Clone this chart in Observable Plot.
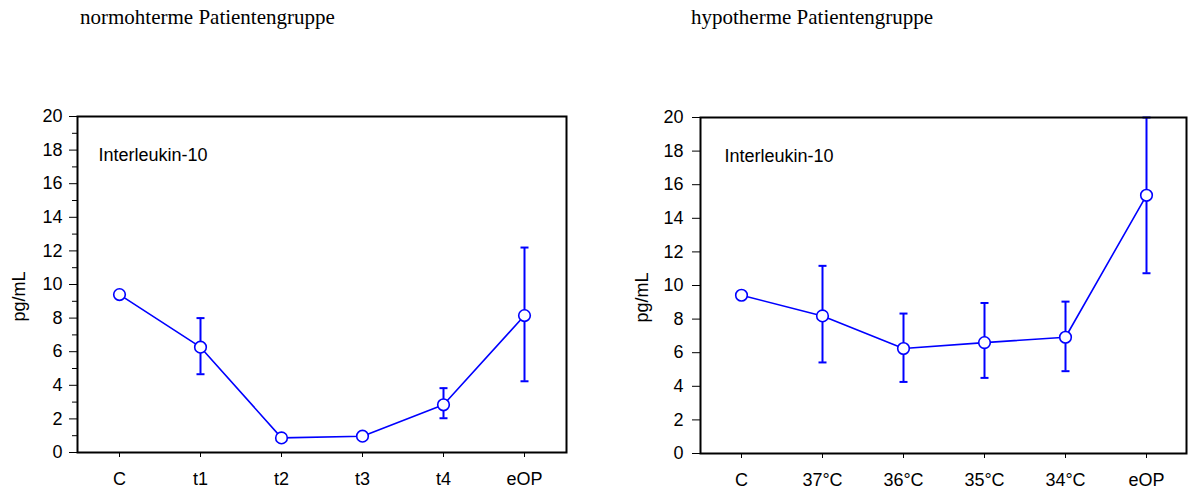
<!DOCTYPE html>
<html>
<head>
<meta charset="utf-8">
<script src="https://cdn.jsdelivr.net/npm/d3@7"></script>
<script src="https://cdn.jsdelivr.net/npm/@observablehq/plot@0.6"></script>
<style>
  body { margin: 0; background: white; }
  #wrap { position: relative; width: 1188px; height: 491px; overflow: hidden; background: white; }
  .title { position: absolute; top: 5px; font-family: "Liberation Serif", "Times New Roman", serif; font-size: 21px; color: #000; white-space: nowrap; }
  .panel { position: absolute; top: 60px; }
</style>
</head>
<body>
<div id="wrap">
  <div class="title" style="left:80px">normohterme Patientengruppe</div>
  <div class="title" style="left:691px">hypotherme Patientengruppe</div>
  <div class="panel" id="left" style="left:0px"></div>
  <div class="panel" id="right" style="left:594px"></div>
</div>
<script>
// ---- data ----
const panelLabel = "Interleukin-10";
const yLabel = "pg/mL";
const yTicks = [0, 2, 4, 6, 8, 10, 12, 14, 16, 18, 20];
const yMinorTicks = [1, 3, 5, 7, 9, 11, 13, 15, 17, 19];

const catsNormo = ["C", "t1", "t2", "t3", "t4", "eOP"];
const meanNormo = [9.4, 6.27, 0.87, 0.97, 2.84, 8.15];
const lowNormo  = [null, 4.66, null, null, 2.04, 4.24];
const highNormo = [null, 8.0, null, null, 3.83, 12.2];

const catsHypo = ["C", "37°C", "36°C", "35°C", "34°C", "eOP"];
const meanHypo = [9.42, 8.19, 6.25, 6.6, 6.92, 15.37];
const lowHypo  = [null, 5.42, 4.26, 4.5, 4.9, 10.73];
const highHypo = [null, 11.17, 8.33, 8.96, 9.04, 20.0];

const BLUE = "#0000ff";
const capSymbol = { draw(ctx) { ctx.moveTo(-4, 0); ctx.lineTo(4, 0); } };

function panel({cats, mean, low, high, marginLeft, marginRight, marginTop, marginBottom, tickPadding, minor, labelDx, textDx}) {
  const rows = cats.map((c, i) => ({cat: c, mean: mean[i], low: low[i], high: high[i]}));
  const errs = rows.filter(d => d.low != null && d.high != null);
  const marks = [
    Plot.axisY({ticks: yTicks, tickSize: 8, tickPadding, label: null, stroke: "black"}),
  ];
  if (minor) marks.push(Plot.axisY({ticks: yMinorTicks, tickSize: 5, tickFormat: () => "", label: null, stroke: "black"}));
  marks.push(
    Plot.axisX({tickSize: 5, tickPadding: 15, label: null, stroke: "black"}),
    Plot.line(rows, {x: "cat", y: "mean", stroke: BLUE, strokeWidth: 1.6}),
    Plot.ruleX(errs, {x: "cat", y1: "low", y2: "high", stroke: BLUE, strokeWidth: 2}),
    Plot.dot(errs, {x: "cat", y: "low", symbol: capSymbol, r: 4, stroke: BLUE, fill: "none", strokeWidth: 2}),
    Plot.dot(errs, {x: "cat", y: "high", symbol: capSymbol, r: 4, stroke: BLUE, fill: "none", strokeWidth: 2}),
    Plot.dot(rows, {x: "cat", y: "mean", r: 5.8, fill: "white", stroke: BLUE, strokeWidth: 1.6}),
    Plot.frame({stroke: "black", strokeWidth: 2}),
    Plot.text([panelLabel], {frameAnchor: "top-left", dx: textDx, dy: 39, textAnchor: "start", lineAnchor: "middle", fontSize: 18, fill: "black"}),
    Plot.text([yLabel], {frameAnchor: "left", dx: labelDx, dy: 12, rotate: -90, textAnchor: "middle", lineAnchor: "middle", fontSize: 18, fill: "black"})
  );
  return Plot.plot({
    width: 594,
    height: 431,
    marginLeft, marginRight, marginTop, marginBottom,
    style: {fontFamily: "'Liberation Sans', Arial, sans-serif", fontSize: "18px", color: "black", background: "white", overflow: "visible"},
    x: {type: "point", domain: cats, padding: 0.5},
    y: {domain: [0, 20]},
    marks
  });
}

document.getElementById("left").append(panel({
  cats: catsNormo, mean: meanNormo, low: lowNormo, high: highNormo,
  marginLeft: 77, marginRight: 28, marginTop: 56, marginBottom: 39,
  tickPadding: 7, minor: true, labelDx: -58, textDx: 21
}));
document.getElementById("right").append(panel({
  cats: catsHypo, mean: meanHypo, low: lowHypo, high: highHypo,
  marginLeft: 106, marginRight: 2, marginTop: 57, marginBottom: 38,
  tickPadding: 9, minor: false, labelDx: -58, textDx: 24
}));
</script>
</body>
</html>
